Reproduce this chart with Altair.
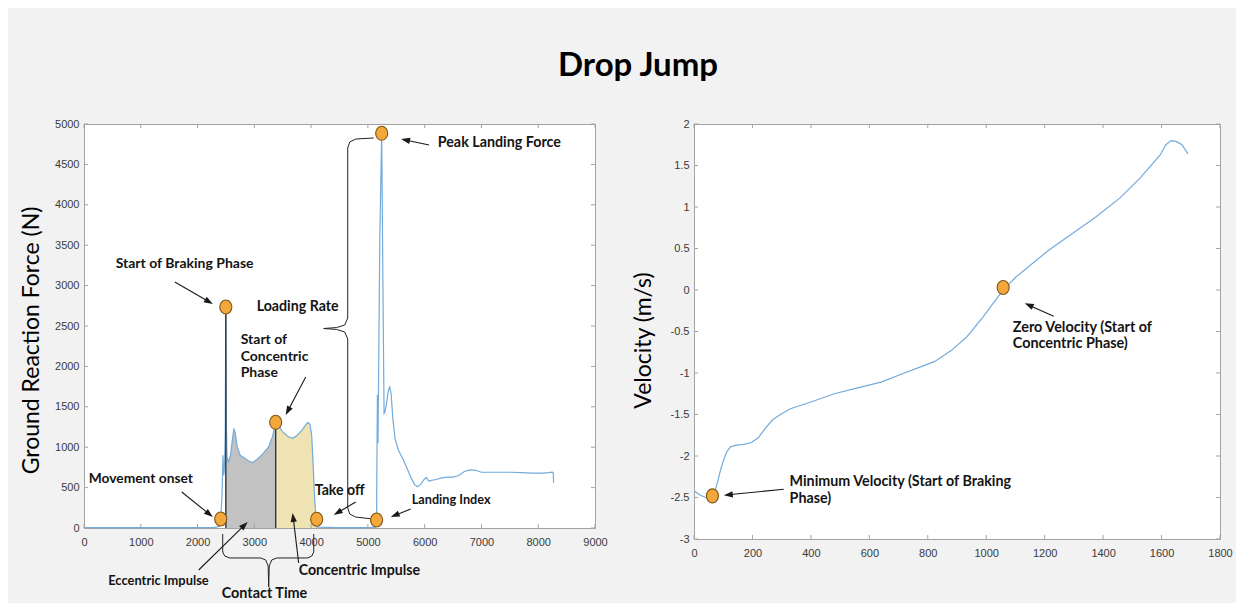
import math
import altair as alt
import pandas as pd

# ---------------- data ----------------
# Ground reaction force trace (sample index, N)
grf_x = [0, 500, 1000, 1500, 2000, 2300, 2380, 2408, 2430, 2448, 2462, 2476, 2488, 2498, 2508, 2518,
         2545, 2580, 2615, 2640, 2665, 2700, 2750, 2820, 2900, 2970, 3050, 3150, 3250, 3320, 3376,
         3420, 3500, 3600, 3680, 3760, 3850, 3920, 3950, 3980, 4010, 4035, 4060, 4085, 4110, 4500,
         5000, 5130, 5153, 5160, 5168, 5178, 5190, 5210, 5243, 5265, 5285, 5300, 5330, 5360, 5385,
         5410, 5440, 5480, 5540, 5620, 5700, 5760, 5820, 5870, 5930, 5990, 6030, 6070, 6120, 6200,
         6300, 6400, 6500, 6600, 6700, 6800, 6900, 7000, 7100, 7300, 7500, 7700, 7900, 8100, 8250,
         8265, 8270]
grf_y = [5, 5, 5, 5, 5, 8, 20, 111, 400, 900, 650, 780, 1200, 2720, 1300, 880,
         820, 900, 1100, 1230, 1170, 1000, 900, 870, 830, 810, 850, 920, 1000, 1130, 1308,
         1270, 1190, 1130, 1110, 1150, 1220, 1290, 1305, 1280, 1150, 800, 400, 110, 10, 5,
         5, 10, 99, 900, 1650, 1050, 2000, 3600, 4885, 3000, 1420, 1430, 1550, 1700, 1745,
         1650, 1350, 1100, 960, 850, 720, 620, 540, 510, 540, 600, 625, 580, 590, 600,
         620, 630, 630, 650, 700, 720, 715, 690, 690, 690, 690, 685, 680, 680, 690,
         680, 560]

# Velocity trace (sample index, m/s)
vel_x = [0, 20, 40, 55, 63, 72, 80, 90, 100, 112, 125, 145, 170, 195, 220, 245, 270, 300, 330,
         400, 480, 560, 640, 720, 780, 824, 880, 935, 990, 1030, 1060, 1100, 1155, 1210, 1290,
         1375, 1458, 1527, 1596, 1615, 1632, 1650, 1670, 1690]
vel_y = [-2.42, -2.47, -2.50, -2.50, -2.48, -2.42, -2.32, -2.18, -2.06, -1.95, -1.89, -1.87, -1.86,
         -1.84, -1.78, -1.66, -1.56, -1.49, -1.43, -1.35, -1.25, -1.18, -1.11, -1.00, -0.92, -0.86,
         -0.73, -0.56, -0.32, -0.13, 0.01, 0.15, 0.31, 0.47, 0.67, 0.88, 1.11, 1.35, 1.63, 1.75,
         1.80, 1.79, 1.75, 1.64]

grf_xticks = [0, 1000, 2000, 3000, 4000, 5000, 6000, 7000, 8000, 9000]
grf_yticks = [0, 500, 1000, 1500, 2000, 2500, 3000, 3500, 4000, 4500, 5000]
vel_xticks = [0, 200, 400, 600, 800, 1000, 1200, 1400, 1600, 1800]
vel_yticks = [-3, -2.5, -2, -1.5, -1, -0.5, 0, 0.5, 1, 1.5, 2]

# key events on the force trace
grf_event_x = [2408, 2498, 3376, 4098, 5153, 5243]
grf_event_y = [111, 2735, 1308, 108, 99, 4885]
phase_x = [2498, 3376]
phase_top = [2720, 1308]
ecc_range = [2498, 3376]
con_range = [3376, 4110]

vel_event_x = [63, 1058]
vel_event_y = [-2.48, 0.03]

# annotations (left edge x, middle y, in data units)
grf_labels = ["Start of Braking Phase", "Loading Rate", "Start of", "Concentric", "Phase",
              "Peak Landing Force", "Movement onset", "Take off", "Landing Index",
              "Eccentric Impulse", "Concentric Impulse", "Contact Time"]
grf_label_x = [558, 3042, 2760, 2760, 2760, 6230, 83, 4063, 5772, 426, 3781, 2425]
grf_label_y = [3267, 2735, 2327, 2116, 1918, 4765, 606, 458, 347, -656, -532, -817]
grf_label_size = [14, 14.2, 14, 14, 14, 14.3, 13.8, 14.2, 12.7, 12.9, 14.2, 14.4]

grf_arrow_tail_x = [6077, 1600, 3905, 1721, 4785, 5754, 2020, 3781]
grf_arrow_tail_y = [4740, 3045, 1869, 446, 322, 235, -520, -433]
grf_arrow_head_x = [5584, 2270, 3553, 2270, 4398, 5402, 2883, 3675]
grf_arrow_head_y = [4814, 2772, 1398, 136, 161, 136, 74, 186]

load_brace_x = [5103, 4785, 4680, 4645, 4645, 4592, 4451, 4222, 4451, 4592, 4645, 4645, 4680, 4785, 5085]
load_brace_y = [4827, 4814, 4777, 4703, 2599, 2512, 2481, 2469, 2457, 2426, 2339, 248, 173, 136, 111]
contact_brace_x = [2443, 2443, 2478, 2566, 3112, 3200, 3244, 3253, 3262, 3306, 3394, 3940, 4011, 4046, 4046]
contact_brace_y = [-74, -297, -347, -371, -371, -396, -470, -730, -470, -396, -371, -371, -347, -297, -74]

vel_labels = ["Zero Velocity (Start of", "Concentric Phase)",
              "Minimum Velocity (Start of Braking", "Phase)"]
vel_label_x = [1091, 1091, 327, 327]
vel_label_y = [-0.46, -0.654, -2.317, -2.522]
vel_label_size = [14.4, 14.4, 14.3, 14.3]

vel_arrow_tail_x = [1231, 307]
vel_arrow_tail_y = [-0.317, -2.40]
vel_arrow_head_x = [1132, 102]
vel_arrow_head_y = [-0.16, -2.473]

# ---------------- styling ----------------
FONT = "Lato"
LABEL_FONT = "Liberation Sans"
FRAME = "#a3a3a3"
LINE = "#72abdc"
DOT_FILL = "#F4A73B"
DOT_STROKE = "#7a561c"
ELLIPSE = "M -0.86 0 A 0.86 1 0 1 1 0.86 0 A 0.86 1 0 1 1 -0.86 0 Z"
TRI = "M 0 -1 L 0.7 1 L -0.7 1 Z"
HEAD = 9

LW, LH = 511, 404
RW, RH = 526, 415
L_XDOM, L_YDOM = [0, 9000], [0, 5000]
R_XDOM, R_YDOM = [0, 1800], [-3, 2]


def arrow_frames(tx, ty, hx, hy, xdom, ydom, W, H):
    def to_px(x, y):
        return ((x - xdom[0]) / (xdom[1] - xdom[0]) * W,
                H - (y - ydom[0]) / (ydom[1] - ydom[0]) * H)

    def to_data(px, py):
        return (xdom[0] + px / W * (xdom[1] - xdom[0]),
                ydom[0] + (H - py) / H * (ydom[1] - ydom[0]))

    shafts, heads = [], []
    for a, b, c, d in zip(tx, ty, hx, hy):
        p0 = to_px(a, b)
        p1 = to_px(c, d)
        dx, dy = p1[0] - p0[0], p1[1] - p0[1]
        L = math.hypot(dx, dy)
        ux, uy = dx / L, dy / L
        end = to_data(p1[0] - ux * (HEAD - 2), p1[1] - uy * (HEAD - 2))
        ctr = to_data(p1[0] - ux * HEAD / 2, p1[1] - uy * HEAD / 2)
        ang = math.degrees(math.atan2(ux, -uy)) % 360
        shafts.append({"x": a, "y": b, "x2": end[0], "y2": end[1]})
        heads.append({"x": ctr[0], "y": ctr[1], "a": ang})
    return pd.DataFrame(shafts), pd.DataFrame(heads)


def panel(W, H, xdom, ydom, xt, yt, ytitle, title_x, title_y,
          curve, events, labels, arrows, extra_layers):
    X = alt.X("x:Q", scale=alt.Scale(domain=xdom, nice=False, zero=False),
              axis=alt.Axis(values=xt, title=None, labelExpr="datum.value + ''",
                            labelFlush=False, labelPadding=8))
    Y = alt.Y("y:Q", scale=alt.Scale(domain=ydom, nice=False, zero=False),
              axis=alt.Axis(values=yt, title=ytitle, labelExpr="datum.value + ''",
                            labelFlush=False, labelPadding=5, titleX=title_x,
                            titleY=title_y, titleBaseline="middle"))
    xt_df = pd.DataFrame({"x": xt})
    yt_df = pd.DataFrame({"y": yt})
    tick = alt.Chart(xt_df).mark_rule(color=FRAME, strokeWidth=1)
    ticks = [
        tick.encode(x=X, y=alt.value(H), y2=alt.value(H - 4)),
        tick.encode(x=X, y=alt.value(0), y2=alt.value(4)),
        alt.Chart(yt_df).mark_rule(color=FRAME, strokeWidth=1).encode(
            y=Y, x=alt.value(0), x2=alt.value(4)),
        alt.Chart(yt_df).mark_rule(color=FRAME, strokeWidth=1).encode(
            y=Y, x=alt.value(W), x2=alt.value(W - 4)),
    ]
    line = alt.Chart(curve).mark_line(color=LINE, strokeWidth=1.2).encode(
        x=X, y=Y, order="i:Q")
    shafts, heads = arrows
    arrow_lines = alt.Chart(shafts).mark_rule(color="#1a1a1a", strokeWidth=1.1).encode(
        x=X, y=Y, x2="x2:Q", y2="y2:Q")
    arrow_heads = alt.Chart(heads).mark_point(
        shape=TRI, size=HEAD * HEAD, filled=True, color="#1a1a1a", opacity=1,
        strokeWidth=0).encode(x=X, y=Y, angle=alt.Angle("a:Q", scale=None))
    dots = alt.Chart(events).mark_point(
        shape=ELLIPSE, size=196, filled=True, fill=DOT_FILL, stroke=DOT_STROKE,
        strokeWidth=1.1, opacity=1).encode(x=X, y=Y)
    text = alt.Chart(labels).mark_text(
        align="left", baseline="middle", font=FONT, fontWeight="bold",
        color="#141414").encode(x=X, y=Y, text="t:N",
                                size=alt.Size("fs:Q", scale=None))
    layers = [l(X, Y) for l in extra_layers[:2]] + [line] + [l(X, Y) for l in extra_layers[2:]] \
        + ticks + [arrow_lines, arrow_heads, dots, text]
    return alt.layer(*layers).properties(width=W, height=H)


# left panel data frames
grf = pd.DataFrame({"x": grf_x, "y": grf_y})
grf["i"] = range(len(grf))
ecc = grf[(grf.x >= ecc_range[0]) & (grf.x <= ecc_range[1])]
con = grf[(grf.x >= con_range[0]) & (grf.x <= con_range[1])]
phase = pd.DataFrame({"x": phase_x, "y": [0] * len(phase_x), "y2": phase_top})
braces = pd.concat([
    pd.DataFrame({"x": load_brace_x, "y": load_brace_y, "b": "load",
                  "i": range(len(load_brace_x))}),
    pd.DataFrame({"x": contact_brace_x, "y": contact_brace_y, "b": "contact",
                  "i": range(len(contact_brace_x))}),
])
grf_ev = pd.DataFrame({"x": grf_event_x, "y": grf_event_y})
grf_lab = pd.DataFrame({"x": grf_label_x, "y": grf_label_y, "t": grf_labels, "fs": grf_label_size})
grf_arr = arrow_frames(grf_arrow_tail_x, grf_arrow_tail_y, grf_arrow_head_x, grf_arrow_head_y,
                       L_XDOM, L_YDOM, LW, LH)

left_extra = [
    lambda X, Y: alt.Chart(ecc).mark_area(color="#c2c2c2", opacity=1).encode(x=X, y=Y),
    lambda X, Y: alt.Chart(con).mark_area(color="#efe2b3", opacity=1).encode(x=X, y=Y),
    lambda X, Y: alt.Chart(phase).mark_rule(color="#333333", strokeWidth=1.4).encode(
        x=X, y=Y, y2="y2:Q"),
    lambda X, Y: alt.Chart(braces).mark_line(color="#222222", strokeWidth=1).encode(
        x=X, y=Y, detail="b:N", order="i:Q"),
]

left = panel(LW, LH, L_XDOM, L_YDOM, grf_xticks, grf_yticks, "Ground Reaction Force (N)",
             -53, 216, grf, grf_ev, grf_lab, grf_arr, left_extra)

vel = pd.DataFrame({"x": vel_x, "y": vel_y})
vel["i"] = range(len(vel))
vel_ev = pd.DataFrame({"x": vel_event_x, "y": vel_event_y})
vel_lab = pd.DataFrame({"x": vel_label_x, "y": vel_label_y, "t": vel_labels, "fs": vel_label_size})
vel_arr = arrow_frames(vel_arrow_tail_x, vel_arrow_tail_y, vel_arrow_head_x, vel_arrow_head_y,
                       R_XDOM, R_YDOM, RW, RH)

right = panel(RW, RH, R_XDOM, R_YDOM, vel_xticks, vel_yticks, "Velocity (m/s)",
              -51, 216, vel, vel_ev, vel_lab, vel_arr, [])

chart = alt.hconcat(
    left, right, spacing=99, bounds="flush",
    title=alt.TitleParams("Drop Jump", font=FONT, fontSize=33, fontWeight="bold",
                          color="#000000", anchor="start", frame="group", dx=474,
                          offset=9, baseline="alphabetic"),
).properties(
    padding={"left": 11, "top": 41, "right": 3, "bottom": 2},
).configure(
    background="#f2f2f2",
).configure_view(
    fill="white", stroke=FRAME, strokeWidth=1,
).configure_axis(
    domain=False, ticks=False, grid=False,
    labelFont=LABEL_FONT, labelFontSize=11, labelColor="#3a3a3a",
    titleFont=FONT, titleFontSize=23, titleFontWeight="normal", titleColor="#000000",
)

chart.save("out.html", embed_options={"renderer": "svg", "actions": False})
